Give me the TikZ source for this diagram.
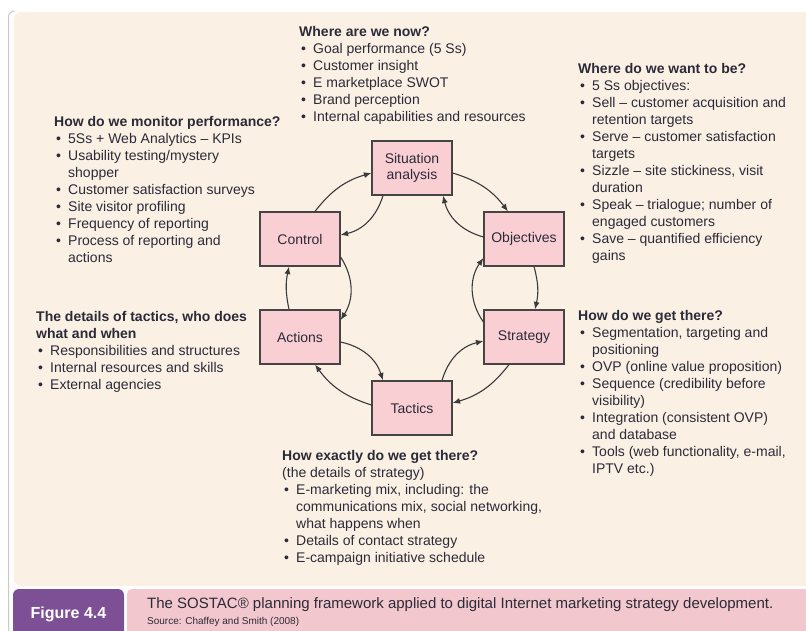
\documentclass[tikz,border=0pt]{standalone}
\usepackage{fontspec}
\setmainfont{Liberation Sans}
\usetikzlibrary{calc,arrows.meta}
\definecolor{panel}{HTML}{FBF0E4}
\definecolor{boxfill}{HTML}{F9CFD4}
\definecolor{boxline}{HTML}{454545}
\definecolor{txt}{HTML}{2B2A38}
\definecolor{arrowc}{HTML}{3A3A3A}
\definecolor{figpurple}{HTML}{7D5096}
\definecolor{cappink}{HTML}{F2C8CE}
\definecolor{framegray}{HTML}{C9C9C9}
\newlength{\bulind}\setlength{\bulind}{14pt}
\newcommand{\blkfont}{\fontsize{14}{17}\selectfont}
\newcommand{\bhead}[1]{\noindent\textbf{#1}\par}
\newcommand{\bplain}[1]{\noindent #1\par}
\newcommand{\bitem}[1]{\noindent\hangindent=\bulind\hangafter=1\makebox[\bulind][l]{\hspace{2pt}\textbullet}#1\par}
\begin{document}
\begin{tikzpicture}[x=1pt,y=1pt,
  box/.style={draw=boxline, fill=boxfill, line width=1.2pt, minimum width=80pt, minimum height=54pt, inner sep=2pt, align=center, text=txt, font=\fontsize{14}{16.7}\selectfont},
  conn/.style={draw=arrowc, line width=1.1pt, -{Latex[length=7.5pt,width=6pt]}},
  blk/.style={anchor=base west, inner sep=0pt, text=txt}]
\useasboundingbox (0,0) rectangle (806,630);
\clip (0,0) rectangle (806,630);
\fill[white] (0,0) rectangle (806,630);
% background panel
\fill[panel, rounded corners=8pt] (13.5,44) rectangle (830,618);
\draw[framegray, line width=1pt] (8.5,-5) -- (8.5,613) arc[start angle=180, end angle=90, radius=6];
% caption bar
\fill[figpurple, rounded corners=6pt] (13,-10) rectangle (124,41);
\fill[cappink, rounded corners=5pt] (127,-10) rectangle (830,41);
\node[anchor=base, inner sep=0pt, text=white, font=\fontsize{16}{18}\selectfont\bfseries] (fig) at (68.5,12) {Figure 4.4};
\node[anchor=base west, inner sep=0pt, text=txt, font=\fontsize{15}{17}\selectfont] (cap) at (147,22) {The SOSTAC® planning framework applied to digital Internet marketing strategy development.};
\node[anchor=base west, inner sep=0pt, text=txt, font=\fontsize{10}{11}\selectfont] (src) at (147,6) {Source: Chaffey and Smith (2008)};
% boxes
\node[box] (sit) at (412,462) {Situation\\analysis};
\node[box] (ctrl) at (300,391) {Control};
\node[box] (obj) at (524,391) {Objectives};
\node[box] (act) at (300,293) {Actions};
\node[box] (str) at (524,293) {Strategy};
\node[box] (tac) at (412,222) {Tactics};
% connectors
\draw[conn] ($(sit.east)+(0,-5)$) to[bend left=18] ($(obj.north)+(-16,0)$);
\draw[conn] ($(obj.west)+(0,2)$) to[bend left=30] ($(sit.south)+(31,0)$);
\draw[conn] ($(sit.south)+(-29,0)$) to[bend left=30] ($(ctrl.east)+(0,4)$);
\draw[conn] ($(ctrl.north)+(15,0)$) to[bend left=18] ($(sit.west)+(0,-5)$);
\draw[conn] ($(ctrl.east)+(0,-18)$) to[bend left=33] ($(act.east)+(0,17)$);
\draw[conn] ($(act.north)+(-11,0)$) to[bend left=12] ($(ctrl.south)+(-11,0)$);
\draw[conn] ($(act.east)+(0,-5)$) to[bend left=30] ($(tac.north)+(-29,0)$);
\draw[conn] ($(tac.west)+(0,3)$) to[bend left=18] ($(act.south)+(15,0)$);
\draw[conn] ($(tac.north)+(30,0)$) to[bend left=30] ($(str.west)+(0,-4)$);
\draw[conn] ($(str.south)+(-15,0)$) to[bend left=18] ($(tac.east)+(0,5)$);
\draw[conn] ($(obj.south)+(10,0)$) to[bend left=14] ($(str.north)+(11,0)$);
\draw[conn] ($(str.west)+(0,15)$) to[bend left=35] ($(obj.west)+(0,-19)$);
% text blocks
\node[blk] (now) at (299,593) {\parbox[t]{280pt}{\blkfont
  \bhead{Where are we now?}
  \bitem{Goal performance (5 Ss)}
  \bitem{Customer insight}
  \bitem{E marketplace SWOT}
  \bitem{Brand perception}
  \bitem{Internal capabilities and resources}}};
\node[blk] (want) at (578,556) {\parbox[t]{240pt}{\blkfont
  \bhead{Where do we want to be?}
  \bitem{5 Ss objectives:}
  \bitem{Sell -- customer acquisition and\\retention targets}
  \bitem{Serve -- customer satisfaction\\targets}
  \bitem{Sizzle -- site stickiness, visit\\duration}
  \bitem{Speak -- trialogue; number of\\engaged customers}
  \bitem{Save -- quantified efficiency\\gains}}};
\node[blk] (mon) at (54,503.3) {\parbox[t]{260pt}{\blkfont
  \bhead{How do we monitor performance?}
  \bitem{5Ss + Web Analytics -- KPIs}
  \bitem{Usability testing/mystery\\shopper}
  \bitem{Customer satisfaction surveys}
  \bitem{Site visitor profiling}
  \bitem{Frequency of reporting}
  \bitem{Process of reporting and\\actions}}};
\node[blk] (det) at (36,308.3) {\parbox[t]{260pt}{\blkfont
  \bhead{The details of tactics, who does\\what and when}
  \bitem{Responsibilities and structures}
  \bitem{Internal resources and skills}
  \bitem{External agencies}}};
\node[blk] (get) at (578,309.3) {\parbox[t]{240pt}{\blkfont
  \bhead{How do we get there?}
  \bitem{Segmentation, targeting and\\positioning}
  \bitem{OVP (online value proposition)}
  \bitem{Sequence (credibility before\\visibility)}
  \bitem{Integration (consistent OVP)\\and database}
  \bitem{Tools (web functionality, e-mail,\\IPTV etc.)}}};
\node[blk] (exact) at (282,170) {\parbox[t]{300pt}{\blkfont
  \bhead{How exactly do we get there?}
  \bplain{(the details of strategy)}
  \bitem{E-marketing mix, including: the\\communications mix, social networking,\\what happens when}
  \bitem{Details of contact strategy}
  \bitem{E-campaign initiative schedule}}};
\end{tikzpicture}
\end{document}
